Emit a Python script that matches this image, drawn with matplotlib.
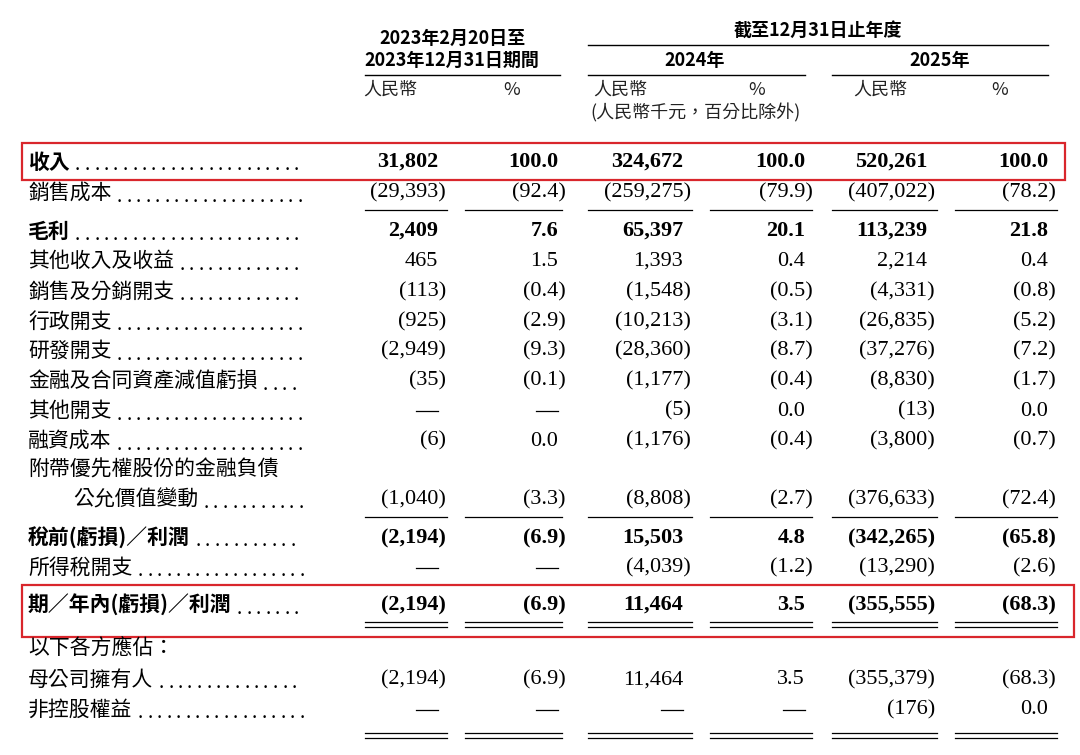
import matplotlib
matplotlib.use('Agg')
import matplotlib.pyplot as plt
from matplotlib.patches import Rectangle

cjk = ['Noto Sans CJK TC', 'DejaVu Sans']
num_font = 'Liberation Serif'

# table data
labels = ['收入', '銷售成本', '毛利', '其他收入及收益', '銷售及分銷開支', '行政開支', '研發開支',
          '金融及合同資產減值虧損', '其他開支', '融資成本', '附帶優先權股份的金融負債',
          '公允價值變動', '稅前(虧損)／利潤', '所得稅開支', '期／年內(虧損)／利潤',
          '以下各方應佔：', '母公司擁有人', '非控股權益']
has_dots = [1, 1, 1, 1, 1, 1, 1, 1, 1, 1, 0, 1, 1, 1, 1, 0, 1, 1]
indent = [0, 0, 0, 0, 0, 0, 0, 0, 0, 0, 0, 1, 0, 0, 0, 0, 0, 0]
bold_rows = [0, 2, 12, 14]
rmb_2023 = ['31,802', '(29,393)', '2,409', '465', '(113)', '(925)', '(2,949)', '(35)', '—', '(6)', '',
            '(1,040)', '(2,194)', '—', '(2,194)', '', '(2,194)', '—']
pct_2023 = ['100.0', '(92.4)', '7.6', '1.5', '(0.4)', '(2.9)', '(9.3)', '(0.1)', '—', '0.0', '',
            '(3.3)', '(6.9)', '—', '(6.9)', '', '(6.9)', '—']
rmb_2024 = ['324,672', '(259,275)', '65,397', '1,393', '(1,548)', '(10,213)', '(28,360)', '(1,177)', '(5)',
            '(1,176)', '', '(8,808)', '15,503', '(4,039)', '11,464', '', '11,464', '—']
pct_2024 = ['100.0', '(79.9)', '20.1', '0.4', '(0.5)', '(3.1)', '(8.7)', '(0.4)', '0.0', '(0.4)', '',
            '(2.7)', '4.8', '(1.2)', '3.5', '', '3.5', '—']
rmb_2025 = ['520,261', '(407,022)', '113,239', '2,214', '(4,331)', '(26,835)', '(37,276)', '(8,830)', '(13)',
            '(3,800)', '', '(376,633)', '(342,265)', '(13,290)', '(355,555)', '', '(355,379)', '(176)']
pct_2025 = ['100.0', '(78.2)', '21.8', '0.4', '(0.8)', '(5.2)', '(7.2)', '(1.7)', '0.0', '(0.7)', '',
            '(72.4)', '(65.8)', '(2.6)', '(68.3)', '', '(68.3)', '0.0']

row_y = [162, 193, 231, 261, 292, 322, 351, 381, 411, 441, 470, 500, 538, 568, 605, 648, 680, 710]
col_right = [438, 558, 683, 805, 927, 1048]
col_span = [(365, 447), (465, 562), (588, 692), (710, 812), (832, 937), (955, 1057)]

fig = plt.figure(figsize=(10.8, 7.55), dpi=100)
ax = fig.add_axes([0, 0, 1, 1])
ax.set_xlim(0, 1080)
ax.set_ylim(755, 0)
ax.axis('off')
renderer = fig.canvas.get_renderer()

# header
hk = dict(family=cjk, fontsize=13, fontweight='bold', ha='center', va='center')
ax.text(452, 38, '2023年2月20日至', **hk)
ax.text(452, 60, '2023年12月31日期間', **hk)
ax.text(818, 30, '截至12月31日止年度', **hk)
ax.text(695, 60, '2024年', **hk)
ax.text(940, 60, '2025年', **hk)
for x0, x1, y in [(365, 560, 75), (588, 1048, 45), (588, 805, 75), (832, 1048, 75)]:
    ax.plot([x0, x1], [y, y], color='black', lw=1)
sk = dict(family=cjk, fontsize=13, style='italic', ha='center', va='center', color='#222222')
for x, t in [(390, '人民幣'), (512, '%'), (620, '人民幣'), (757, '%'), (880, '人民幣'), (1000, '%')]:
    ax.text(x, 90, t, **sk)
ax.text(695, 113, '(人民幣千元，百分比除外)', **sk)

# rows
cols = [rmb_2023, pct_2023, rmb_2024, pct_2024, rmb_2025, pct_2025]
for i, lab in enumerate(labels):
    y = row_y[i]
    w = 'bold' if i in bold_rows else 'normal'
    t = ax.text(28 + indent[i] * 45, y, lab, family=cjk, fontsize=15, fontweight=w, va='center', ha='left')
    if has_dots[i]:
        bb = t.get_window_extent(renderer)
        x = bb.x1 + 8
        while x < 302:
            ax.text(x, y + 4, '.', family=num_font, fontsize=15, va='center', ha='center')
            x += 9.5
    for c, vals in enumerate(cols):
        v = vals[i]
        if not v:
            continue
        if v == '—':
            ax.plot([col_right[c] - 22, col_right[c]], [y, y], color='black', lw=0.9)
            continue
        x = col_right[c] + (8 if v.startswith('(') else 0)
        ax.text(x, y, v, family=num_font, fontsize=16, fontweight=w, va='center', ha='right')

# rules
for y in [210, 517]:
    for x0, x1 in col_span:
        ax.plot([x0, x1], [y, y], color='black', lw=0.9)
for y in [622, 627, 733, 738]:
    for x0, x1 in col_span:
        ax.plot([x0, x1], [y, y], color='black', lw=0.9)

# highlight boxes
ax.add_patch(Rectangle((22, 143), 1043, 37, fill=False, edgecolor='#d9262c', lw=1.6))
ax.add_patch(Rectangle((22, 585), 1052, 52, fill=False, edgecolor='#d9262c', lw=1.6))

fig.savefig('out.png', dpi=100, facecolor='white')
